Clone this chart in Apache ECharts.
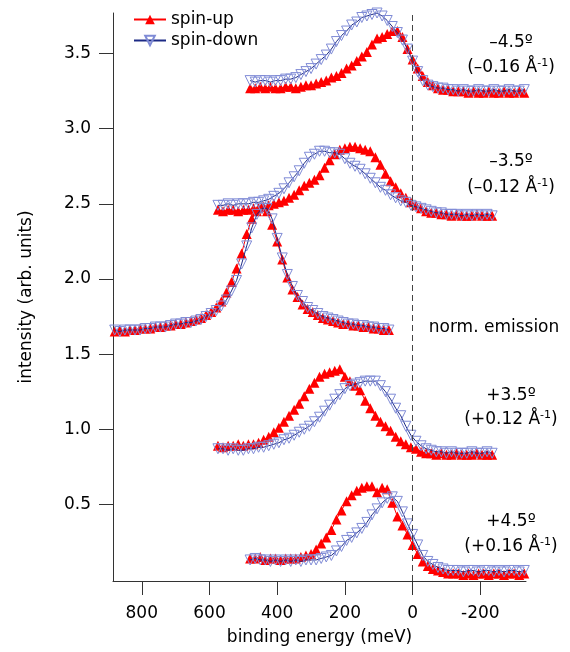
<!DOCTYPE html>
<html><head><meta charset="utf-8">
<script src="https://cdn.jsdelivr.net/npm/echarts@6/dist/echarts.min.js"></script>
<style>html,body{margin:0;padding:0;background:#fff}#c{width:570px;height:652px}</style>
</head><body><div id="c"></div>
<script>
// Binding energy grids (meV)
const E_A = [480,465,450,435,420,405,390,375,360,345,330,315,300,285,270,255,240,225,210,195,180,165,150,135,120,105,90,75,60,45,30,15,0,-15,-30,-45,-60,-75,-90,-105,-120,-135,-150,-165,-180,-195,-210,-225,-240,-255,-270,-285,-300,-315,-330];
const E_B = [575,560,545,530,515,500,485,470,455,440,425,410,395,380,365,350,335,320,305,290,275,260,245,230,215,200,185,170,155,140,125,110,95,80,65,50,35,20,5,-10,-25,-40,-55,-70,-85,-100,-115,-130,-145,-160,-175,-190,-205,-220,-235];
const E_N = [880,865,850,835,820,805,790,775,760,745,730,715,700,685,670,655,640,625,610,595,580,565,550,535,520,505,490,475,460,445,430,415,400,385,370,355,340,325,310,295,280,265,250,235,220,205,190,175,160,145,130,115,100,85,70];

// -4.5 deg
const upM45 = [3.27,3.27,3.28,3.27,3.28,3.27,3.27,3.28,3.28,3.27, 3.28,3.29,3.29,3.30,3.31,3.32,3.34,3.35,3.37,3.40, 3.42,3.45,3.48,3.51,3.56,3.60,3.61,3.63,3.65,3.65, 3.61,3.53,3.46,3.40,3.35,3.31,3.29,3.27,3.26,3.26, 3.25,3.25,3.25,3.24,3.25,3.24,3.24,3.25,3.24,3.24, 3.25,3.24,3.24,3.25,3.24];
const downM45 = [3.32,3.31,3.32,3.32,3.31,3.32,3.32,3.33,3.33,3.34, 3.36,3.38,3.40,3.43,3.46,3.49,3.53,3.58,3.62,3.65, 3.69,3.71,3.74,3.75,3.76,3.77,3.75,3.72,3.68,3.64, 3.59,3.53,3.45,3.38,3.32,3.29,3.28,3.27,3.27,3.26, 3.26,3.25,3.26,3.25,3.25,3.26,3.25,3.25,3.26,3.25, 3.25,3.26,3.25,3.25,3.26];
// -3.5 deg
const upM35 = [2.46,2.45,2.46,2.46,2.45,2.46,2.46,2.47,2.47,2.48, 2.49,2.50,2.51,2.52,2.54,2.56,2.59,2.62,2.64,2.66, 2.69,2.74,2.79,2.83,2.86,2.87,2.88,2.88,2.87,2.86, 2.85,2.81,2.76,2.70,2.65,2.61,2.57,2.54,2.51,2.49, 2.47,2.45,2.44,2.44,2.43,2.43,2.42,2.43,2.42,2.42, 2.42,2.43,2.42,2.42,2.42];
const downM35 = [2.49,2.49,2.50,2.49,2.50,2.50,2.50,2.51,2.51,2.52, 2.53,2.55,2.57,2.60,2.64,2.68,2.72,2.77,2.81,2.83, 2.85,2.85,2.84,2.84,2.83,2.80,2.77,2.75,2.73,2.70, 2.67,2.64,2.61,2.59,2.56,2.54,2.52,2.51,2.49,2.48, 2.47,2.46,2.45,2.44,2.44,2.43,2.43,2.43,2.42,2.43, 2.42,2.43,2.42,2.43,2.42];
// normal emission
const upN = [1.65,1.66,1.65,1.66,1.66,1.67,1.67,1.67,1.68,1.68, 1.69,1.69,1.70,1.70,1.71,1.72,1.73,1.74,1.76,1.78, 1.81,1.85,1.91,1.98,2.07,2.17,2.30,2.40,2.45,2.48, 2.45,2.36,2.25,2.13,2.01,1.93,1.88,1.83,1.80,1.78, 1.76,1.74,1.73,1.72,1.71,1.70,1.70,1.69,1.69,1.68, 1.68,1.67,1.67,1.66,1.66];
const downN = [1.66,1.65,1.66,1.66,1.66,1.66,1.67,1.67,1.68,1.68, 1.68,1.69,1.70,1.70,1.71,1.71,1.72,1.73,1.75,1.77, 1.79,1.82,1.86,1.92,1.99,2.10,2.22,2.34,2.43,2.47, 2.47,2.40,2.27,2.14,2.03,1.95,1.89,1.85,1.81,1.79, 1.77,1.75,1.74,1.73,1.72,1.71,1.70,1.70,1.69,1.69, 1.68,1.68,1.67,1.67,1.66];
// +3.5 deg
const upP35 = [0.89,0.88,0.89,0.89,0.90,0.89,0.90,0.90,0.91,0.93, 0.95,0.98,1.01,1.05,1.09,1.13,1.17,1.22,1.27,1.31, 1.35,1.37,1.38,1.39,1.40,1.35,1.32,1.29,1.26,1.19, 1.14,1.09,1.05,1.02,0.99,0.95,0.92,0.90,0.88,0.87, 0.85,0.84,0.84,0.83,0.84,0.83,0.83,0.84,0.83,0.83, 0.83,0.84,0.83,0.83,0.83];
const downP35 = [0.87,0.87,0.86,0.87,0.86,0.86,0.87,0.87,0.88,0.88, 0.89,0.90,0.91,0.93,0.94,0.96,0.98,1.00,1.02,1.05, 1.08,1.12,1.16,1.20,1.23,1.27,1.29,1.30,1.31,1.32, 1.32,1.32,1.29,1.25,1.20,1.14,1.09,1.02,0.96,0.92, 0.89,0.87,0.86,0.85,0.85,0.84,0.85,0.84,0.84,0.84, 0.85,0.84,0.84,0.85,0.84];
// +4.5 deg
const upP45 = [0.14,0.14,0.15,0.13,0.14,0.14,0.13,0.14,0.14,0.14, 0.15,0.16,0.17,0.20,0.24,0.28,0.33,0.40,0.46,0.52, 0.56,0.59,0.61,0.62,0.62,0.58,0.61,0.60,0.51,0.42, 0.36,0.30,0.23,0.17,0.12,0.09,0.07,0.06,0.05,0.04, 0.04,0.04,0.03,0.04,0.03,0.04,0.04,0.03,0.04,0.04, 0.03,0.04,0.04,0.03,0.04];
const downP45 = [0.13,0.14,0.13,0.13,0.12,0.13,0.12,0.13,0.12,0.13, 0.12,0.13,0.13,0.13,0.14,0.15,0.16,0.19,0.22,0.26, 0.28,0.31,0.34,0.38,0.43,0.47,0.51,0.54,0.55,0.52, 0.45,0.37,0.30,0.23,0.16,0.12,0.10,0.08,0.07,0.06, 0.06,0.06,0.05,0.06,0.06,0.05,0.06,0.06,0.05,0.06, 0.05,0.06,0.06,0.05,0.06];

const xTicks = [800,600,400,200,0,-200];
const yTicks = [0.5,1.0,1.5,2.0,2.5,3.0,3.5];
const angleLabels = ['–4.5º','–3.5º','norm. emission','+3.5º','+4.5º'];
const kLabels = ['(–0.16 Å{s|-1})','(–0.12 Å{s|-1})','','(+0.12 Å{s|-1})','(+0.16 Å{s|-1})'];

const FONT = '"DejaVu Sans", "Liberation Sans", Arial, sans-serif';
const panels = [
  {e:E_A, up:upM45, down:downM45},
  {e:E_B, up:upM35, down:downM35},
  {e:E_N, up:upN, down:downN},
  {e:E_B, up:upP35, down:downP35},
  {e:E_A, up:upP45, down:downP45}
];
const series = [];
panels.forEach((p, i) => {
  series.push({
    name:'spin-up', type:'line', data:p.e.map((e,j)=>[e,p.up[j]]),
    symbol:'triangle', symbolSize:10, showAllSymbol:true, clip:false, z:2,
    lineStyle:{color:'#ff0000', width:1}, itemStyle:{color:'#ff0000'},
    markLine: i===0 ? {silent:true, symbol:'none', label:{show:false}, animation:false,
      lineStyle:{type:[6,4], color:'#444', width:1}, data:[{xAxis:0}]} : undefined
  });
  series.push({
    name:'spin-down', type:'line', data:p.e.map((e,j)=>[e,p.down[j]]),
    symbol:'triangle', symbolRotate:180, symbolSize:10, showAllSymbol:true, clip:false, z:3,
    lineStyle:{color:'#1c2a85', width:1},
    itemStyle:{color:'rgba(255,255,255,0)', borderColor:'#7f8bd6', borderWidth:1}
  });
});

const annY = [[43,68],[162,188],[328,null],[396,420],[522,547]];
const graphics = [];
annY.forEach((yy, i) => {
  graphics.push({type:'text', x: i===2 ? 494 : 511, y: yy[0], silent:true,
    style:{text:angleLabels[i], fontSize:17, fontFamily:FONT, fill:'#000', align:'center', verticalAlign:'middle'}});
  if (yy[1] !== null) {
    graphics.push({type:'text', x:511, y:yy[1], silent:true,
      style:{text:kLabels[i], fontSize:17, fontFamily:FONT, fill:'#000', align:'center', verticalAlign:'middle',
        rich:{s:{fontSize:11, fontFamily:FONT, fill:'#000', verticalAlign:'top', lineHeight:20}}}});
  }
});

const chart = echarts.init(document.getElementById('c'), null, {renderer:'canvas'});
chart.setOption({
  animation:false,
  backgroundColor:'#fff',
  textStyle:{fontFamily:FONT},
  grid:{left:113, right:44, top:13, bottom:71, containLabel:false},
  legend:{left:128, top:6, orient:'vertical', itemWidth:32, itemHeight:12, itemGap:4,
    textStyle:{fontSize:17, color:'#000', fontFamily:FONT}, data:['spin-up','spin-down']},
  xAxis:{type:'value', inverse:true, min:-335, max:885,
    name:'binding energy (meV)', nameLocation:'middle', nameGap:48,
    nameTextStyle:{fontSize:17, color:'#000', fontFamily:FONT},
    axisLine:{show:true, onZero:false, lineStyle:{color:'#333', width:1}},
    axisTick:{show:true, customValues:xTicks, length:14, lineStyle:{color:'#333'}},
    axisLabel:{customValues:xTicks, margin:24, fontSize:17, color:'#000', fontFamily:FONT, formatter:v=>String(v)},
    splitLine:{show:false}},
  yAxis:{type:'value', min:-0.01, max:3.77,
    name:'intensity (arb. units)', nameLocation:'middle', nameGap:78,
    nameTextStyle:{fontSize:17, color:'#000', fontFamily:FONT},
    axisLine:{show:true, onZero:false, lineStyle:{color:'#333', width:1}},
    axisTick:{show:true, customValues:yTicks, length:14, lineStyle:{color:'#333'}},
    axisLabel:{customValues:yTicks, margin:22, fontSize:17, color:'#000', fontFamily:FONT, formatter:v=>v.toFixed(1)},
    splitLine:{show:false}},
  series:series,
  graphic:graphics
});
</script></body></html>
